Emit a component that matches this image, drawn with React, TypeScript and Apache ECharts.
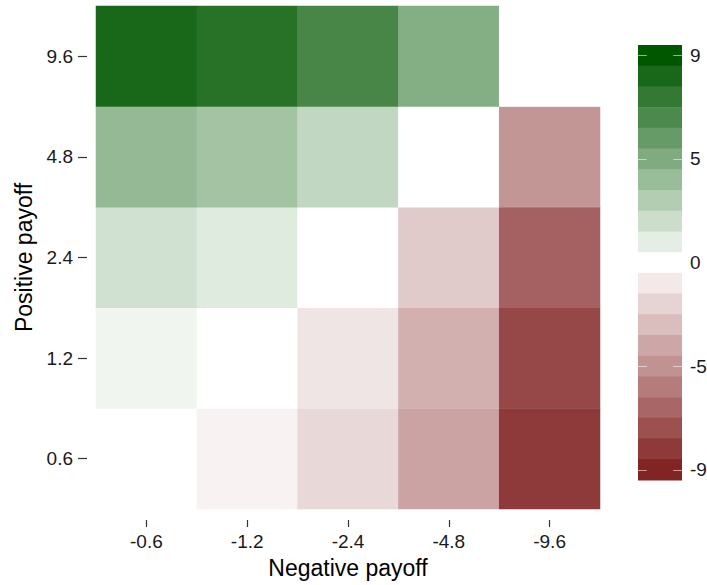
import React, { useEffect, useRef } from "react";
import * as echarts from "echarts";

// ---- data ----
const xCats = ["-0.6", "-1.2", "-2.4", "-4.8", "-9.6"]; // Negative payoff
const yCats = ["0.6", "1.2", "2.4", "4.8", "9.6"]; // Positive payoff
const row06 = [0, -0.6, -1.8, -4.2, -9];
const row12 = [0.6, 0, -1.2, -3.6, -8.4];
const row24 = [1.8, 1.2, 0, -2.4, -7.2];
const row48 = [4.2, 3.6, 2.4, 0, -4.8];
const row96 = [9, 8.4, 7.2, 4.8, 0];
const rows = [row06, row12, row24, row48, row96];
// colour-bar ticks: position on the scale and printed label
const colorbarTickValues = [9, 4.5, 0, -4.5, -9];
const colorbarTickLabels = ["9", "5", "0", "-5", "-9"];
const V_MIN = -9;
const V_MAX = 9;

// ---- colour scale (diverging, linear RGB) ----
const LOW = "#832424";
const MID = "#ffffff";
const HIGH = "#005700";
const CELL_ALPHA = 0.9;

function hexToRgb(h: string): number[] {
  return [1, 3, 5].map((i) => parseInt(h.slice(i, i + 2), 16));
}
const lowRgb = hexToRgb(LOW);
const midRgb = hexToRgb(MID);
const highRgb = hexToRgb(HIGH);
function mix(a: number[], b: number[], t: number) {
  return a.map((v, i) => Math.round(v + (b[i] - v) * t));
}
function scaleRgb(v: number): number[] {
  const t = (v - V_MIN) / (V_MAX - V_MIN);
  return t <= 0.5 ? mix(lowRgb, midRgb, t / 0.5) : mix(midRgb, highRgb, (t - 0.5) / 0.5);
}
function rgbStr(c: number[]) {
  return `rgb(${c[0]},${c[1]},${c[2]})`;
}
function withAlphaOnWhite(c: number[]) {
  return c.map((x) => Math.round(x * CELL_ALPHA + 255 * (1 - CELL_ALPHA)));
}

const FONT = '"Liberation Sans", Arial, Helvetica, sans-serif';

export default function App() {
  const ref = useRef<HTMLDivElement>(null);
  useEffect(() => {
    document.body.style.margin = "0";
    if (!ref.current) return;
    const chart = echarts.init(ref.current, undefined, { renderer: "svg" });

    const data: number[][] = [];
    rows.forEach((row, yi) => row.forEach((v, xi) => data.push([xi, yi, v])));

    const cellStops = [V_MIN, 0, V_MAX].map((v) => rgbStr(withAlphaOnWhite(scaleRgb(v))));

    // colour bar legend (21 bins)
    const nbin = 21;
    const barX = 638, barTop = 45, barW = 44, barH = 435;
    const binH = barH / nbin;
    const step = (V_MAX - V_MIN) / (nbin - 1);
    const ext = V_MAX + step / 2;
    const graphics: any[] = [];
    for (let k = 0; k < nbin; k++) {
      const v = V_MAX - k * step;
      graphics.push({
        type: "rect",
        silent: true,
        shape: { x: barX, y: barTop + k * binH, width: barW, height: binH + 0.6 },
        style: { fill: rgbStr(scaleRgb(v)) },
      });
    }
    const yOf = (v: number) => barTop + ((ext - v) / (2 * ext)) * barH;
    colorbarTickValues.forEach((b, i) => {
      const y = Math.round(yOf(b)) + 0.5;
      graphics.push({
        type: "line",
        silent: true,
        shape: { x1: barX, y1: y, x2: barX + 8.8, y2: y },
        style: { stroke: "rgba(255,255,255,0.55)", lineWidth: 1 },
      });
      graphics.push({
        type: "line",
        silent: true,
        shape: { x1: barX + barW - 8.8, y1: y, x2: barX + barW, y2: y },
        style: { stroke: "rgba(255,255,255,0.55)", lineWidth: 1 },
      });
      graphics.push({
        type: "text",
        silent: true,
        x: barX + barW + 8,
        y: yOf(b),
        style: {
          text: colorbarTickLabels[i],
          fontSize: 19,
          fontFamily: FONT,
          fill: "#1a1a1a",
          align: "left",
          verticalAlign: "middle",
        },
      });
    });

    chart.setOption({
      animation: false,
      backgroundColor: "#ffffff",
      grid: { left: 96, top: 6, width: 504, height: 503, containLabel: false },
      xAxis: {
        type: "category",
        data: xCats,
        offset: 11,
        axisLine: { show: false },
        axisTick: { show: true, length: 7, alignWithLabel: true, interval: 0, lineStyle: { color: "#333", width: 1.2 } },
        axisLabel: { margin: 12, fontSize: 19, fontFamily: FONT, color: "#1a1a1a", interval: 0 },
        splitLine: { show: false },
        name: "Negative payoff",
        nameLocation: "middle",
        nameGap: 36,
        nameTextStyle: { fontSize: 23, fontFamily: FONT, color: "#000" },
      },
      yAxis: {
        type: "category",
        data: yCats,
        offset: 9,
        axisLine: { show: false },
        axisTick: { show: true, length: 9, alignWithLabel: true, interval: 0, lineStyle: { color: "#333", width: 1.2 } },
        axisLabel: { margin: 14, fontSize: 19, fontFamily: FONT, color: "#1a1a1a", interval: 0 },
        splitLine: { show: false },
        name: "Positive payoff",
        nameLocation: "middle",
        nameGap: 45,
        nameRotate: 90,
        nameTextStyle: { fontSize: 23, fontFamily: FONT, color: "#000" },
      },
      visualMap: {
        type: "continuous",
        show: false,
        min: V_MIN,
        max: V_MAX,
        dimension: 2,
        seriesIndex: 0,
        inRange: { color: cellStops },
      },
      graphic: graphics,
      series: [
        {
          type: "heatmap",
          data,
          itemStyle: { borderWidth: 0 },
          emphasis: { disabled: true },
        },
      ],
    });
    return () => chart.dispose();
  }, []);
  return <div ref={ref} style={{ width: 707, height: 585 }} />;
}
